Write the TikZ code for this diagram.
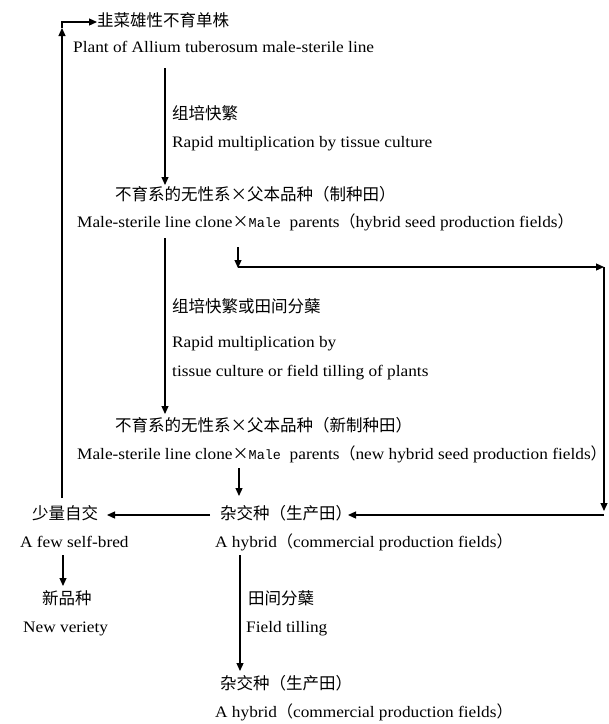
\documentclass[tikz,border=0pt]{standalone}
\usepackage{fontspec}
\setmainfont{Liberation Serif}[FakeStretch=1.08]
\newfontfamily\cjk{Noto Sans CJK SC}
\newfontfamily\mono{Liberation Mono}
\usetikzlibrary{arrows.meta}
\begin{document}
\begin{tikzpicture}[x=1pt,y=-1pt,
  en/.style={anchor=west, inner sep=0pt, text height=12pt, text depth=4pt, font=\fontsize{16}{18}\selectfont},
  cn/.style={anchor=west, inner sep=0pt, text height=12pt, text depth=4pt, font=\cjk\fontsize{16.5}{18}\selectfont},
  arr/.style={-{Triangle[length=8pt,width=7pt]}, line width=1.2pt},
  ln/.style={line width=1.2pt}]
\fill[white] (0,0) rectangle (609,724);
\useasboundingbox (0,0) rectangle (609,724);
% texts
\node[cn] (n1) at (97,22) {韭菜雄性不育单株};
\node[en] (e1) at (73,48) {Plant of Allium tuberosum male-sterile line};
\node[cn] (t1) at (172,115) {组培快繁};
\node[en] (t1e) at (172,143) {Rapid multiplication by tissue culture};
\node[cn] (n2) at (115,196) {不育系的无性系×父本品种（制种田）};
\node[en] (e2) at (77,223) {Male-sterile line clone{\cjk ×}{\mono\fontsize{13.5}{14}\selectfont Male}\ \ parents{\cjk （}hybrid seed production fields{\cjk ）}};
\node[cn] (t2) at (172,308) {组培快繁或田间分蘖};
\node[en] (t2e) at (172,343) {Rapid multiplication by};
\node[en] (t2f) at (172,372) {tissue culture or field tilling of plants};
\node[cn] (n3) at (115,427) {不育系的无性系×父本品种（新制种田）};
\node[en] (e3) at (77,455) {Male-sterile line clone{\cjk ×}{\mono\fontsize{13.5}{14}\selectfont Male}\ \ parents{\cjk （}new hybrid seed production fields{\cjk ）}};
\node[cn] (n4) at (32,515) {少量自交};
\node[en] (e4) at (20,543) {A few self-bred};
\node[cn] (n5) at (220,515) {杂交种（生产田）};
\node[en] (e5) at (215,543) {A hybrid{\cjk （}commercial production fields{\cjk ）}};
\node[cn] (n6) at (42,600) {新品种};
\node[en] (e6) at (23,628) {New veriety};
\node[cn] (t3) at (248,600) {田间分蘖};
\node[en] (t3e) at (246,628) {Field tilling};
\node[cn] (n7) at (220,685) {杂交种（生产田）};
\node[en] (e7) at (215,713) {A hybrid{\cjk （}commercial production fields{\cjk ）}};
% coordinates
\coordinate (lb) at (62,498);
\coordinate (lu) at (62,28);
\coordinate (lc) at (62,22);
\coordinate (a1s) at (165,68);
\coordinate (a1e) at (165,185);
\coordinate (a2s) at (165,238);
\coordinate (a2e) at (165,414);
\coordinate (bs) at (238,247);
\coordinate (be) at (238,268);
\coordinate (bc) at (238,267);
\coordinate (rc) at (604,267);
\coordinate (rb) at (604,511);
\coordinate (rl) at (604,515);
\coordinate (cs) at (239,468);
\coordinate (ce) at (239,496);
\coordinate (ds) at (210,515);
\coordinate (de) at (107,515);
\coordinate (es) at (63,555);
\coordinate (ee) at (63,586);
\coordinate (fs) at (240,555);
\coordinate (fe) at (240,671);
\coordinate (gt) at (348,515);
% connectors
\draw[arr] (lb) -- (lu);
\draw[arr] (lu) -- (lc) -- (n1.west);
\draw[arr] (a1s) -- (a1e);
\draw[arr] (a2s) -- (a2e);
\draw[arr] (bs) -- (be);
\draw[arr] (bc) -- (rc);
\draw[arr] (rc) -- (rb);
\draw[arr] (rl) -- (gt);
\draw[arr] (cs) -- (ce);
\draw[arr] (ds) -- (de);
\draw[arr] (es) -- (ee);
\draw[arr] (fs) -- (fe);
\end{tikzpicture}
\end{document}
